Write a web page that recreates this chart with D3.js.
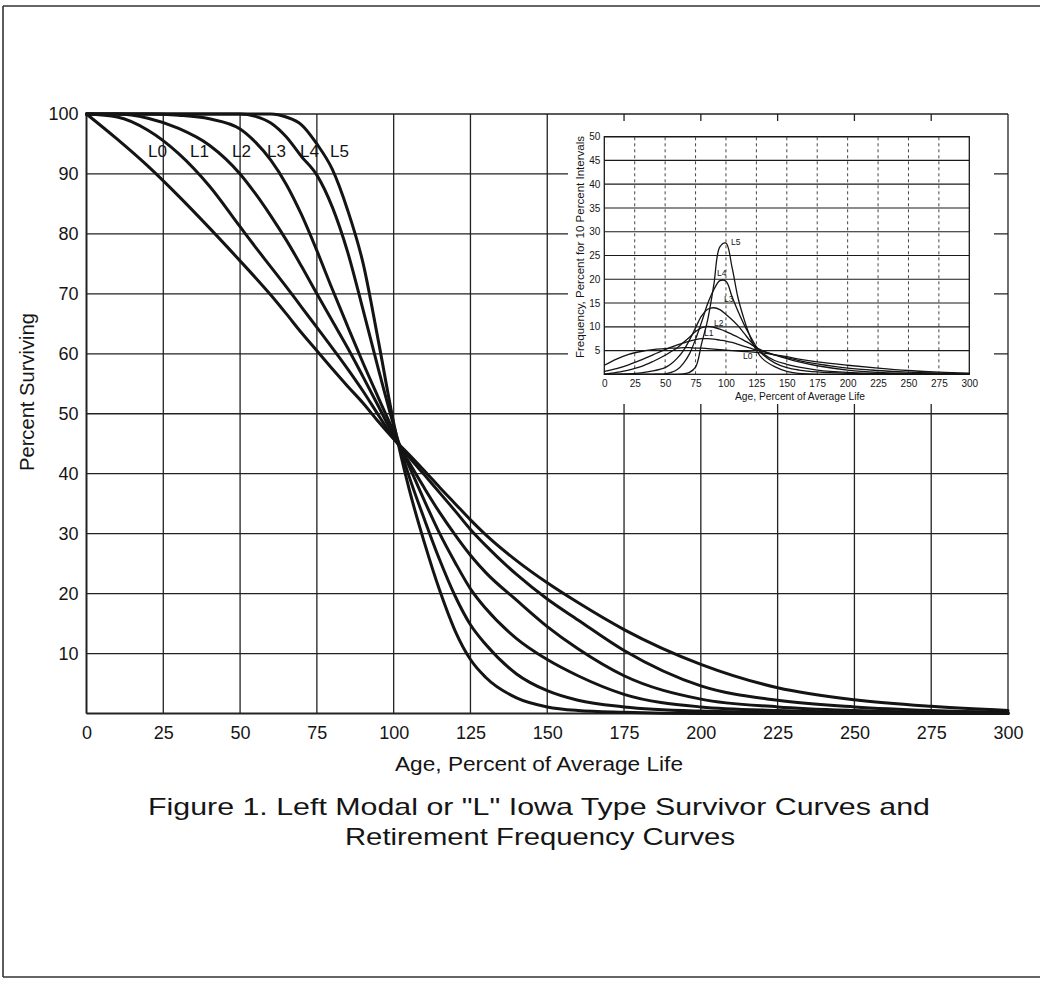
<!DOCTYPE html>
<html>
<head>
<meta charset="utf-8">
<script src="https://cdn.jsdelivr.net/npm/d3@7"></script>
<style>
  body { margin: 0; background: #fff; }
  svg { display: block; }
  text { font-family: "Liberation Sans", Arial, Helvetica, sans-serif; fill: #151515; }
</style>
</head>
<body>
<svg id="fig" width="1040" height="991"></svg>
<script>
// ---- Survivor curves: percent surviving vs. age (percent of average life) ----
const surviveAge = [0,10,20,30,40,50,55,60,65,70,75,80,85,90,95,100,105,110,115,120,125,130,140,150,160,175,200,225,250,275,300];
const surviveL0 = [100,95.8,91.3,86.3,81,75.5,72.7,69.8,66.7,63.5,60.5,57.5,54.6,51.8,48.7,45.8,43.2,40.5,37.7,35,32.3,29.8,25.5,21.8,18.5,14,8.2,4.3,2.3,1.2,0.5];
const surviveL1 = [100,99.5,97.3,93.4,88,81.2,77.8,74.5,71.2,67.8,64.4,61,57.5,53.8,49.8,45.9,42.8,39.8,36.8,33.8,30.7,28,23.2,19.1,15.6,10.5,4.6,2.2,1.1,0.5,0.2];
const surviveL2 = [100,100,99.3,97.6,94.8,90,86.7,83,79,74.6,70,65.5,61,56.2,51.3,46.3,41.9,37.6,33.5,29.8,26.4,23.5,18.9,14.5,10.8,6.3,2.4,1.1,0.5,0.2,0.1];
const surviveL3 = [100,100,100,99.8,99.2,97.5,95.3,92.3,88.3,83.2,77.2,70.8,64.6,58.5,52.7,47,41.3,35.5,30,25.2,20.8,17.5,12.5,9,6.3,3.2,1.1,0.5,0.2,0.1,0];
const surviveL4 = [100,100,100,100,100,100,99.6,98.5,96.2,92.9,89.8,84.5,77,67.4,57.5,48,39.6,32.4,25.6,19.6,14.8,11.5,6.6,3.8,2.2,1.1,0.4,0.2,0.1,0,0];
const surviveL5 = [100,100,100,100,100,100,100,100,99.5,98.2,95,90.8,84,75.2,62.2,48.5,37.5,28.5,20.5,13.8,9,6,2.6,1.1,0.5,0.2,0,0,0,0,0];
const curveNames = ["L0","L1","L2","L3","L4","L5"];

// ---- Retirement frequency curves: percent retired per 10-percent age interval ----
const freqAge = [0,10,20,30,40,50,55,60,65,70,75,80,85,90,95,100,105,110,115,120,125,130,140,150,160,175,200,225,250,275,300];
const freqL0 = [1.9,3.2,4.2,4.8,5.2,5.4,5.5,5.5,5.6,5.6,5.5,5.5,5.4,5.3,5.2,5.1,5.0,4.9,4.8,4.7,4.6,4.5,4.1,3.7,3.2,2.6,1.9,1.3,0.8,0.45,0.25];
const freqL1 = [0.6,1.2,2.0,3.0,4.1,5.2,5.7,6.2,6.6,7.0,7.3,7.5,7.5,7.4,7.2,7.0,6.7,6.3,5.9,5.5,5.1,4.8,4.1,3.5,2.9,2.2,1.3,0.8,0.45,0.25,0.1];
const freqL2 = [0,0.4,0.9,1.6,2.7,4.0,4.8,5.6,6.7,7.8,9.0,9.8,10.1,9.9,9.5,9.0,8.4,7.8,7.1,6.4,5.6,5.0,4.1,3.3,2.6,1.8,0.9,0.4,0.2,0.1,0];
const freqL3 = [0,0,0.1,0.3,0.7,1.4,2.2,3.4,5.0,7.2,9.8,12.3,13.7,14.0,13.6,12.6,11.5,10.2,8.6,7.0,5.6,4.4,2.9,2.1,1.5,0.9,0.4,0.2,0.1,0,0];
const freqL4 = [0,0,0,0,0,0.1,0.4,1.0,2.3,4.3,7.4,11,14.9,17.8,19.7,19.6,16.3,13.2,10.4,8.0,5.8,4.2,2.4,1.4,0.9,0.5,0.2,0.1,0,0,0];
const freqL5 = [0,0,0,0,0,0,0,0,0.1,0.4,1.5,6.5,11.5,18.8,26.8,27.6,22.5,16,11.5,7.8,5.0,3.3,1.6,0.6,0.2,0,0,0,0,0,0];

// ---- Tick values ----
const mainXTicks = [0,25,50,75,100,125,150,175,200,225,250,275,300];
const mainYTicks = [10,20,30,40,50,60,70,80,90,100];
const insetXTicks = [0,25,50,75,100,125,150,175,200,225,250,275,300];
const insetYTicks = [5,10,15,20,25,30,35,40,45,50];

const survivorSeries = [surviveL0, surviveL1, surviveL2, surviveL3, surviveL4, surviveL5];
const freqSeries = [freqL0, freqL1, freqL2, freqL3, freqL4, freqL5];

const svg = d3.select("#fig");
const ink = "#141414";

// Page frame
const frame = svg.append("g").attr("stroke", "#333").attr("stroke-width", 1.6);
frame.append("line").attr("x1", 3).attr("x2", 1040).attr("y1", 6).attr("y2", 6);
frame.append("line").attr("x1", 3).attr("x2", 3).attr("y1", 6).attr("y2", 977);
frame.append("line").attr("x1", 3).attr("x2", 1040).attr("y1", 977).attr("y2", 977);

// ---- Main survivor chart ----
const x = d3.scaleLinear().domain([0, 300]).range([86.5, 1008]);
const y = d3.scaleLinear().domain([0, 100]).range([713.5, 114]);

const grid = svg.append("g").attr("stroke", "#222").attr("stroke-width", 1.3).attr("fill", "none");
grid.selectAll("line.h").data(mainYTicks).join("line")
  .attr("x1", x(0)).attr("x2", x(300)).attr("y1", d => y(d)).attr("y2", d => y(d));
grid.selectAll("line.v").data(mainXTicks).join("line")
  .attr("y1", y(0)).attr("y2", y(100)).attr("x1", d => x(d)).attr("x2", d => x(d));
grid.append("line").attr("x1", x(0)).attr("x2", x(300)).attr("y1", y(0)).attr("y2", y(0)).attr("stroke-width", 1.8);
grid.append("line").attr("x1", x(0)).attr("x2", x(0)).attr("y1", y(0)).attr("y2", y(100)).attr("stroke-width", 1.8);

const survivorLine = d3.line()
  .x((d, i) => x(surviveAge[i]))
  .y(d => y(d))
  .curve(d3.curveMonotoneX);

svg.append("g").attr("fill", "none").attr("stroke", ink).attr("stroke-width", 3)
  .attr("stroke-linejoin", "round").attr("stroke-linecap", "round")
  .selectAll("path").data(survivorSeries).join("path")
  .attr("d", survivorLine);

// Axes (labels only; the grid supplies the rules)
const xAxis = svg.append("g").attr("transform", `translate(0,${y(0)})`)
  .call(d3.axisBottom(x).tickValues(mainXTicks).tickSize(0).tickPadding(12.5).tickFormat(d3.format("d")));
xAxis.select(".domain").remove();
xAxis.selectAll("text").attr("font-size", 18).attr("font-family", null).style("fill", "#151515");

const yAxis = svg.append("g").attr("transform", `translate(${x(0)},0)`)
  .call(d3.axisLeft(y).tickValues(mainYTicks).tickSize(0).tickPadding(8).tickFormat(d3.format("d")));
yAxis.select(".domain").remove();
yAxis.selectAll("text").attr("font-size", 18).attr("font-family", null).style("fill", "#151515");

svg.append("text").attr("x", 539).attr("y", 771).attr("text-anchor", "middle")
  .attr("font-size", 20).attr("textLength", 288).attr("lengthAdjust", "spacingAndGlyphs")
  .text("Age, Percent of Average Life");

svg.append("text").attr("transform", "translate(34,392) rotate(-90)").attr("text-anchor", "middle")
  .attr("font-size", 20).attr("textLength", 158).attr("lengthAdjust", "spacingAndGlyphs")
  .text("Percent Surviving");

// Curve labels along the top of the survivor chart
const labelX = [148, 190, 232, 267, 300, 330];
svg.append("g").selectAll("text").data(curveNames).join("text")
  .attr("x", (d, i) => labelX[i]).attr("y", 157)
  .attr("font-size", 17).attr("textLength", 19).attr("lengthAdjust", "spacingAndGlyphs")
  .text(d => d);

// ---- Inset: retirement frequency curves ----
svg.append("rect").attr("x", 568).attr("y", 121).attr("width", 426).attr("height", 283).attr("fill", "#fff");

const xi = d3.scaleLinear().domain([0, 300]).range([604.3, 969.3]);
const yi = d3.scaleLinear().domain([0, 50]).range([374.3, 136.7]);

const igrid = svg.append("g").attr("fill", "none");
igrid.selectAll("line.v").data(insetXTicks.slice(1, -1)).join("line")
  .attr("x1", d => xi(d)).attr("x2", d => xi(d)).attr("y1", yi(0)).attr("y2", yi(50))
  .attr("stroke", "#444").attr("stroke-width", 1).attr("stroke-dasharray", "3,3");
igrid.selectAll("line.h").data(insetYTicks).join("line")
  .attr("x1", xi(0)).attr("x2", xi(300)).attr("y1", d => yi(d)).attr("y2", d => yi(d))
  .attr("stroke", "#1a1a1a").attr("stroke-width", 1.2);
igrid.append("rect").attr("x", xi(0)).attr("y", yi(50)).attr("width", xi(300) - xi(0)).attr("height", yi(0) - yi(50))
  .attr("stroke", "#1a1a1a").attr("stroke-width", 1.3);

const freqLine = d3.line()
  .x((d, i) => xi(freqAge[i]))
  .y(d => yi(Math.max(0, d)))
  .curve(d3.curveCatmullRom.alpha(0.5));

svg.append("g").attr("fill", "none").attr("stroke", ink).attr("stroke-width", 1.3)
  .attr("stroke-linejoin", "round")
  .selectAll("path").data(freqSeries).join("path")
  .attr("d", freqLine);

const ixAxis = svg.append("g").attr("transform", `translate(0,${yi(0)})`)
  .call(d3.axisBottom(xi).tickValues(insetXTicks).tickSize(0).tickPadding(6).tickFormat(d3.format("d")));
ixAxis.select(".domain").remove();
ixAxis.selectAll("text").attr("font-size", 10).attr("font-family", null).style("fill", "#151515");

const iyAxis = svg.append("g").attr("transform", `translate(${xi(0)},0)`)
  .call(d3.axisLeft(yi).tickValues(insetYTicks).tickSize(0).tickPadding(4).tickFormat(d3.format("d")));
iyAxis.select(".domain").remove();
iyAxis.selectAll("text").attr("font-size", 10).attr("font-family", null).style("fill", "#151515");

svg.append("text").attr("x", 800).attr("y", 400).attr("text-anchor", "middle")
  .attr("font-size", 10).attr("textLength", 130).attr("lengthAdjust", "spacingAndGlyphs")
  .text("Age, Percent of Average Life");

svg.append("text").attr("transform", "translate(584,247) rotate(-90)").attr("text-anchor", "middle")
  .attr("font-size", 10).attr("textLength", 222).attr("lengthAdjust", "spacingAndGlyphs")
  .text("Frequency, Percent for 10 Percent Intervals");

// Inset curve labels
const insetLabelPos = [[743, 359], [704, 336], [714, 326], [724, 302], [717, 276], [731, 245]];
svg.append("g").selectAll("text").data(curveNames).join("text")
  .attr("x", (d, i) => insetLabelPos[i][0]).attr("y", (d, i) => insetLabelPos[i][1])
  .attr("font-size", 8.5)
  .text(d => d);

// ---- Caption ----
svg.append("text").attr("x", 539).attr("y", 815).attr("text-anchor", "middle")
  .attr("font-size", 24).attr("textLength", 782).attr("lengthAdjust", "spacingAndGlyphs")
  .text("Figure 1. Left Modal or \"L\" Iowa Type Survivor Curves and");
svg.append("text").attr("x", 540).attr("y", 845).attr("text-anchor", "middle")
  .attr("font-size", 24).attr("textLength", 390).attr("lengthAdjust", "spacingAndGlyphs")
  .text("Retirement Frequency Curves");
</script>
</body>
</html>
